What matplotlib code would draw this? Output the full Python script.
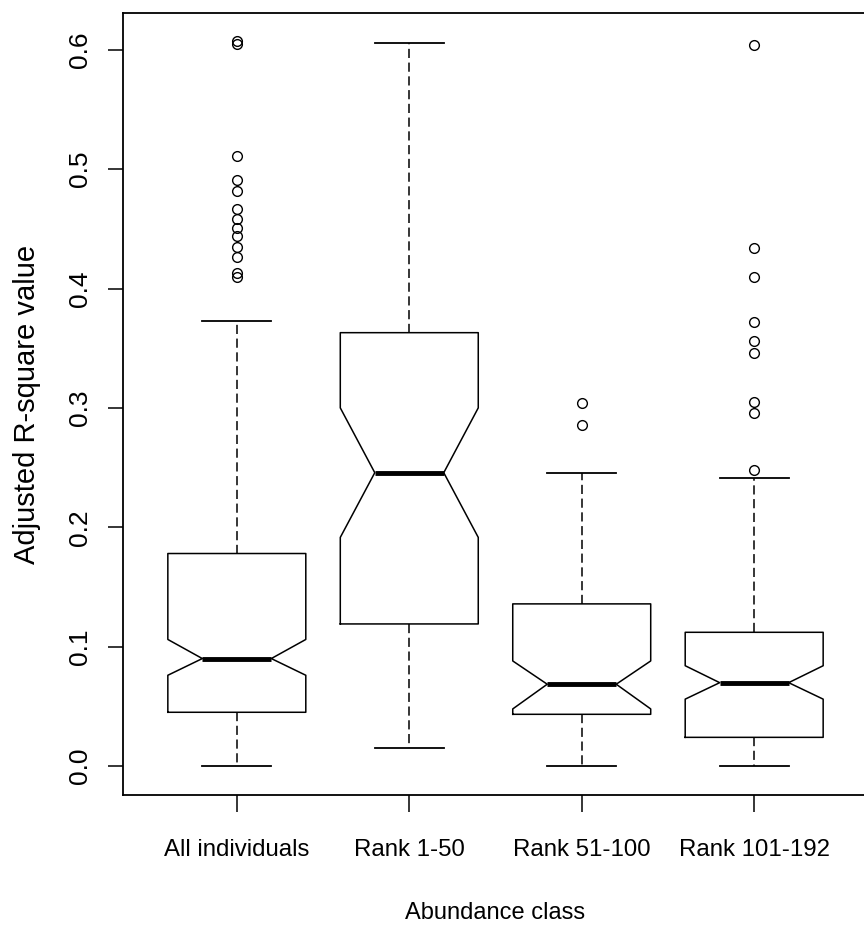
import matplotlib
matplotlib.use("Agg")
import matplotlib.pyplot as plt

# =============================================================================
# Data
# =============================================================================
CATEGORIES = ["All individuals", "Rank 1-50", "Rank 51-100", "Rank 101-192"]
WHISKER_LOW = [0.0, 0.015, 0.0, 0.0]
Q1 = [0.045, 0.119, 0.0433, 0.024]
MEDIAN = [0.090, 0.2457, 0.0685, 0.0698]
Q3 = [0.178, 0.363, 0.1358, 0.112]
WHISKER_HIGH = [0.373, 0.606, 0.2457, 0.241]
NOTCH_LOW = [0.076, 0.1915, 0.0478, 0.056]
NOTCH_HIGH = [0.106, 0.300, 0.088, 0.084]
OUTLIERS = [
    [0.605, 0.607, 0.511, 0.491, 0.482, 0.467, 0.458, 0.451, 0.444, 0.435,
     0.426, 0.413, 0.410],
    [],
    [0.304, 0.286],
    [0.604, 0.434, 0.410, 0.372, 0.356, 0.346, 0.305, 0.296, 0.248],
]
Y_TICKS = [0.0, 0.1, 0.2, 0.3, 0.4, 0.5, 0.6]

# =============================================================================
# Configuration
# =============================================================================
W_PX, H_PX, DPI = 864, 936, 100
FONT = ["Liberation Sans", "DejaVu Sans"]

stats = []
for i, name in enumerate(CATEGORIES):
    stats.append(dict(
        label=name, whislo=WHISKER_LOW[i], q1=Q1[i], med=MEDIAN[i], q3=Q3[i],
        whishi=WHISKER_HIGH[i], cilo=NOTCH_LOW[i], cihi=NOTCH_HIGH[i],
        fliers=OUTLIERS[i],
    ))

fig = plt.figure(figsize=(W_PX / DPI, H_PX / DPI), dpi=DPI)
ax = fig.add_axes([123 / W_PX, 1 - 795 / H_PX, 745 / W_PX, 782 / H_PX])

ax.bxp(
    stats,
    positions=range(1, len(CATEGORIES) + 1),
    widths=0.8,
    capwidths=0.4,
    shownotches=True,
    boxprops=dict(color="black", linewidth=1.1),
    whiskerprops=dict(color="black", linewidth=1.1, linestyle=(0, (6, 3))),
    capprops=dict(color="black", linewidth=1.3),
    medianprops=dict(color="black", linewidth=3.5, solid_capstyle="butt"),
    flierprops=dict(marker="o", markersize=7, markerfacecolor="none",
                    markeredgecolor="black", markeredgewidth=1.0),
)

# Axes styling (R base graphics look)
ax.set_xlim(0.34, 4.66)
ax.set_ylim(-0.0243, 0.6308)
ax.set_yticks(Y_TICKS)
ax.set_yticklabels([f"{v:.1f}" for v in Y_TICKS], rotation=90, va="center",
                   family=FONT, fontsize=19)
ax.set_xticks(range(1, len(CATEGORIES) + 1))
ax.set_xticklabels(CATEGORIES, family=FONT, fontsize=17.3)
ax.tick_params(axis="x", length=12.5, width=1.1, pad=19)
ax.tick_params(axis="y", length=10.5, width=1.1, pad=11.5)
for spine in ax.spines.values():
    spine.set_linewidth(1.3)

ax.set_xlabel("Abundance class", family=FONT, fontsize=17, labelpad=30)
ax.set_ylabel("Adjusted R-square value", family=FONT, fontsize=21,
              labelpad=19.5)

fig.savefig("out.png", dpi=DPI)
plt.close(fig)
